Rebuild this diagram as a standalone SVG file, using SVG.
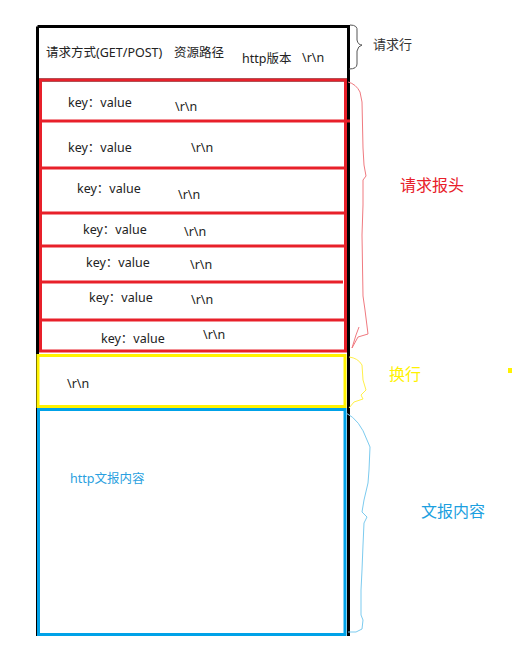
<svg xmlns="http://www.w3.org/2000/svg" width="525" height="669" viewBox="0 0 525 669">
<style>
.t{font-family:"Noto Sans","Noto Sans CJK SC",sans-serif;font-size:12.5px;fill:#222}
.red{fill:none;stroke:#e8202a;stroke-width:3}
.brace{fill:none;stroke-width:1;stroke-linejoin:round}
.lbl{font-family:"Noto Sans CJK SC","Noto Sans",sans-serif;font-size:16px}
</style>
<rect width="525" height="669" fill="#fff"/>
<g id="outer">
<path d="M37.5 26.5 H348.5 V636 M37.5 26.5 V636" fill="none" stroke="#000" stroke-width="3"/>
<line x1="37" y1="80" x2="349" y2="80" stroke="#000" stroke-width="3"/>
</g>
<g id="request-line">
<text class="t" x="46" y="57">请求方式(GET/POST)</text>
<text class="t" x="174" y="57">资源路径</text>
<text class="t" x="242" y="63">http版本</text>
<text class="t" x="302" y="62">\r\n</text>
</g>
<g id="headers">
<rect class="red" x="40.5" y="80" width="305" height="271"/>
<line class="red" x1="40" y1="121" x2="350" y2="121"/>
<line class="red" x1="40" y1="168" x2="346" y2="168"/>
<line class="red" x1="40" y1="213" x2="346" y2="213"/>
<line class="red" x1="40" y1="246" x2="346" y2="246"/>
<line class="red" x1="40" y1="282" x2="343" y2="282"/>
<line class="red" x1="40" y1="320" x2="346" y2="320"/>
<text class="t" x="68" y="107">key：value</text><text class="t" x="175" y="111">\r\n</text>
<text class="t" x="68" y="152">key：value</text><text class="t" x="191" y="152">\r\n</text>
<text class="t" x="77" y="193">key：value</text><text class="t" x="178" y="199">\r\n</text>
<text class="t" x="83" y="234">key：value</text><text class="t" x="184" y="236">\r\n</text>
<text class="t" x="86" y="267">key：value</text><text class="t" x="190" y="269">\r\n</text>
<text class="t" x="89" y="302">key：value</text><text class="t" x="191" y="304">\r\n</text>
<text class="t" x="101" y="343">key：value</text><text class="t" x="203" y="339">\r\n</text>
</g>
<g id="blank-line">
<rect x="38" y="355.5" width="307" height="51" fill="none" stroke="#fff200" stroke-width="3"/>
<text class="t" x="67" y="388">\r\n</text>
</g>
<g id="body">
<rect x="38.5" y="409.5" width="306.5" height="225" fill="none" stroke="#00a2e8" stroke-width="3"/>
<text x="70" y="483" font-family="Noto Sans,Noto Sans CJK SC,sans-serif" font-size="12.5" fill="#2a9fe0">http文报内容</text>
</g>
<g id="connectors">
<path class="brace" stroke="#555" d="M350 25 Q358 25 357 31 L357 40 Q358 45 362 45 Q358 46 357 51 L357 64 Q357 69 349 69"/>
<path class="brace" stroke="#f07a80" d="M348 82 Q356 84 360 92 L362 102 L363 148 L364 165 L366 176 L363 180 L363 205 L362 235 L363 296 L365 310 L368 334 L358 337 L352 348 M352 348 L356 335 L359 327"/>
<path class="brace" stroke="#fff04a" d="M349 357 Q358 358 362 365 L363 380 L366 390 L361 395 L363 399 L354 402 L349 408"/>
<path class="brace" stroke="#7ccbef" d="M346 413 Q360 420 367 440 L370 447 L369 470 L368 483 L364 500 L362 512 L367 517 L364 523 L363 545 L362 570 L361 590 L361 615 L363 620 L362 629 L356 632 L348 632"/>
</g>
<g id="labels">
<text x="373" y="49" font-family="Noto Sans CJK SC,sans-serif" font-size="13" fill="#333">请求行</text>
<text class="lbl" x="400" y="191" fill="#e8202a">请求报头</text>
<text class="lbl" x="389" y="380" fill="#fff200">换行</text>
<rect x="508" y="368" width="4" height="5" fill="#fff200"/>
<text class="lbl" x="421" y="517" fill="#1c9fe0">文报内容</text>
</g>
</svg>
